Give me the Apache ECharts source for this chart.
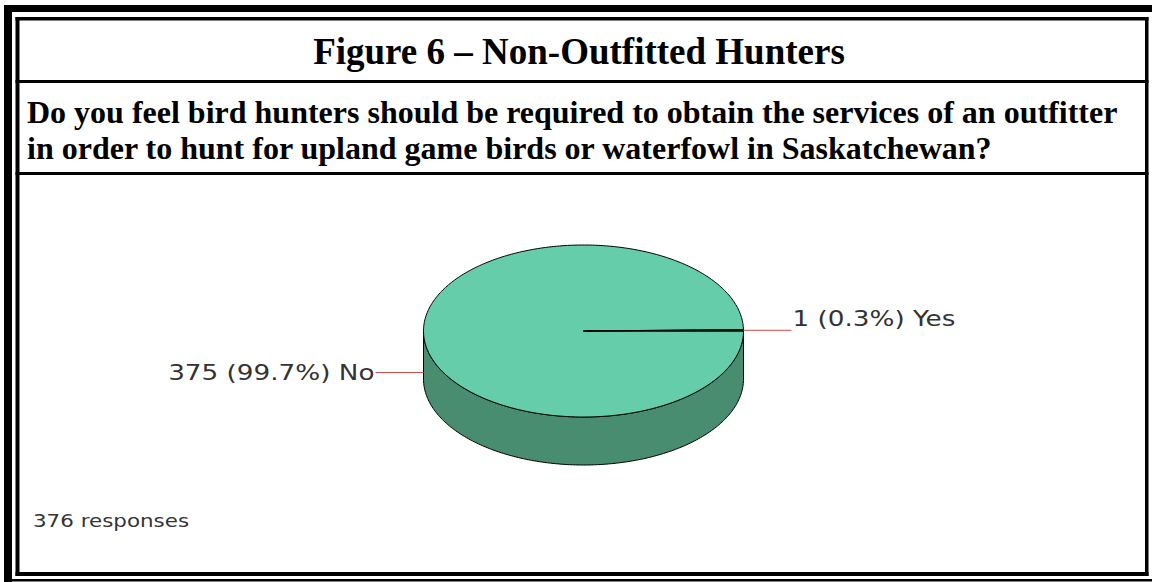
<!DOCTYPE html>
<html>
<head>
<meta charset="utf-8">
<script src="https://cdn.jsdelivr.net/npm/echarts@6/dist/echarts.min.js"></script>
<style>
  html, body { margin: 0; padding: 0; background: #fff; }
  #chart { width: 1152px; height: 582px; }
</style>
</head>
<body>
<div id="chart"></div>
<script>
// ---- data ----
const figureTitle = 'Figure 6 \u2013 Non-Outfitted Hunters';
const questionLines = [
  'Do you feel bird hunters should be required to obtain the services of an outfitter',
  'in order to hunt for upland game birds or waterfowl in Saskatchewan?'
];
const categories = ['No', 'Yes'];
const counts = [375, 1];
const responseCount = 376;

// ---- styles / layout ----
const topColors = ['#66CDAA', '#1f3f35'];
const sideColors = ['#488D70', '#14302a'];
const leaderColor = '#d24b4b';
const labelColor = '#333333';
const pie = { cx: 583.5, cy: 331, rx: 160, ry: 86, depth: 48 };
const serifBold = 'bold {size}px "Liberation Serif", "Times New Roman", Times, serif';
const sansFamily = '"DejaVu Sans", Verdana, sans-serif';

const total = counts.reduce((a, b) => a + b, 0);

// point on the pie rim (angle measured clockwise from east, screen coords)
function rimPoint(a, dy) {
  return [pie.cx + pie.rx * Math.cos(a), pie.cy + pie.ry * Math.sin(a) + dy];
}
function arcPoints(a0, a1, dy) {
  const steps = Math.max(2, Math.ceil(Math.abs(a1 - a0) / (Math.PI / 180)));
  const pts = [];
  for (let s = 0; s <= steps; s++) {
    pts.push(rimPoint(a0 + (a1 - a0) * s / steps, dy));
  }
  return pts;
}

function renderSlice(params, api) {
  const i = params.dataIndex;
  const value = api.value(0);
  let before = 0;
  for (let k = 0; k < i; k++) before += counts[k];
  const a0 = before / total * 2 * Math.PI;
  const a1 = (before + value) / total * 2 * Math.PI;
  const children = [];

  // visible side wall: the part of the slice lying in the front half
  [[0, Math.PI], [2 * Math.PI, 3 * Math.PI]].forEach(([lo, hi]) => {
    const s = Math.max(a0, lo), e = Math.min(a1, hi);
    if (e - s > 1e-6) {
      const pts = arcPoints(s, e, 0).concat(arcPoints(e, s, pie.depth));
      children.push({
        type: 'polygon', z2: 1,
        shape: { points: pts },
        style: { fill: sideColors[i], stroke: '#000', lineWidth: 1 }
      });
    }
  });

  // top face
  children.push({
    type: 'polygon', z2: 5,
    shape: { points: [[pie.cx, pie.cy]].concat(arcPoints(a0, a1, 0)) },
    style: { fill: topColors[i], stroke: '#000', lineWidth: 1 }
  });

  // leader line and label: front slices point at their side wall, back slices at the rim
  const mid = (a0 + a1) / 2;
  const front = Math.sin(mid) > 0;
  const anchor = rimPoint(mid, front ? pie.depth * 0.85 : 0);
  const dir = Math.cos(mid) >= 0 ? 1 : -1;
  const end = [anchor[0] + dir * 48, anchor[1]];
  children.push({
    type: 'polyline', z2: 6,
    shape: { points: [anchor, end] },
    style: { stroke: leaderColor, lineWidth: 1, fill: null }
  });
  const pct = (value / total * 100).toFixed(1);
  children.push({
    type: 'text', z2: 7,
    x: end[0] + dir * 1, y: front ? end[1] : end[1] - 1,
    scaleX: 1.25,
    style: {
      text: value + ' (' + pct + '%) ' + categories[i],
      fill: labelColor,
      fontSize: 21,
      fontFamily: sansFamily,
      align: dir > 0 ? 'left' : 'right',
      verticalAlign: front ? 'middle' : 'bottom'
    }
  });

  return { type: 'group', children };
}

// frame: thick outer edge, inner box, and row separators
const frame = [
  [4, 5, 1148, 7],      // outer top
  [4, 5, 8, 577],       // outer left
  [4, 579, 1148, 2.5],  // outer bottom
  [15.5, 17, 4, 559],   // inner left
  [15.5, 17, 1133, 3.5],// inner top
  [1145, 17, 3.5, 559], // inner right
  [15.5, 572, 1133, 4], // inner bottom
  [15.5, 80, 1133, 3],  // below title
  [15.5, 172, 1133, 3]  // below question
].map(([x, y, w, h]) => ({
  type: 'rect', shape: { x, y, width: w, height: h }, style: { fill: '#000' }, silent: true
}));

const chart = echarts.init(document.getElementById('chart'), null, { renderer: 'svg' });
chart.setOption({
  backgroundColor: '#ffffff',
  animation: false,
  graphic: frame.concat([
    {
      type: 'text', x: 579, y: 51,
      style: {
        text: figureTitle, fill: '#000',
        font: serifBold.replace('{size}', 37),
        align: 'center', verticalAlign: 'middle'
      }
    },
    {
      type: 'text', x: 27, y: 112,
      style: {
        text: questionLines[0], fill: '#000',
        font: serifBold.replace('{size}', 32),
        align: 'left', verticalAlign: 'middle'
      }
    },
    {
      type: 'text', x: 27, y: 148,
      style: {
        text: questionLines[1], fill: '#000',
        font: serifBold.replace('{size}', 32),
        align: 'left', verticalAlign: 'middle'
      }
    },
    {
      type: 'text', x: 33, y: 521, scaleX: 1.26,
      style: {
        text: responseCount + ' responses', fill: labelColor,
        fontSize: 17, fontFamily: sansFamily,
        align: 'left', verticalAlign: 'middle'
      }
    }
  ]),
  series: [{
    type: 'custom',
    coordinateSystem: 'none',
    data: counts.map((c, i) => ({ name: categories[i], value: [c] })),
    renderItem: renderSlice
  }]
});
</script>
</body>
</html>
